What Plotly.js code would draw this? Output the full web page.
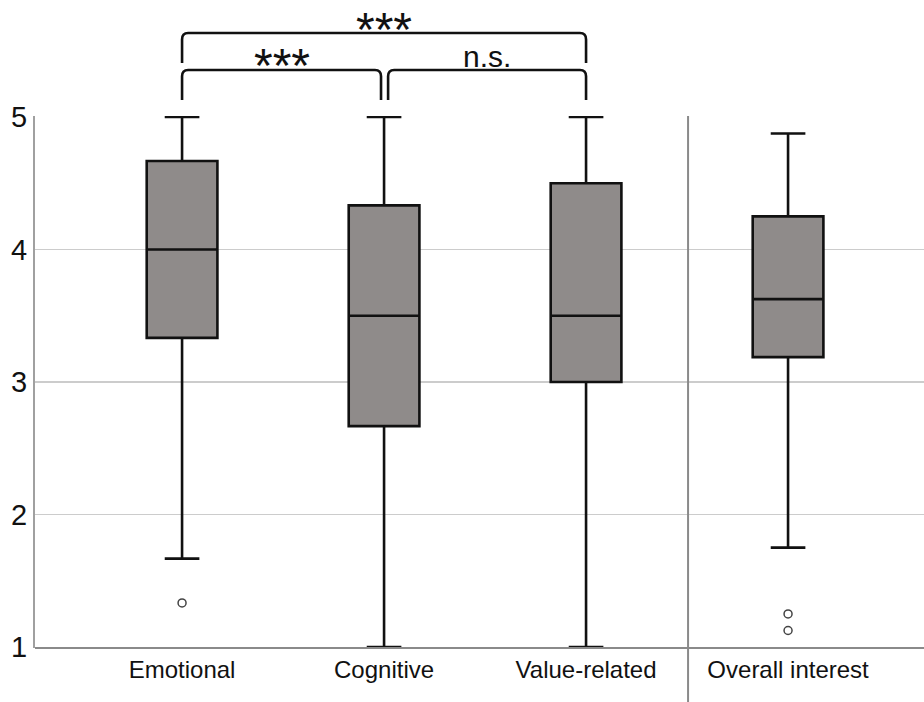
<!DOCTYPE html>
<html>
<head>
<meta charset="utf-8">
<script src="https://cdn.plot.ly/plotly-3.0.1.min.js"></script>
<style>html,body{margin:0;padding:0;background:#fff;}#chart{width:924px;height:702px;}</style>
</head>
<body>
<div id="chart"></div>
<script>
// ---- data ----
const categories = ["Emotional", "Cognitive", "Value-related", "Overall interest"];
const upperFence = [5.0, 5.0, 5.0, 4.875];
const q3Values   = [4.667, 4.333, 4.5, 4.25];
const medians    = [4.0, 3.5, 3.5, 3.625];
const q1Values   = [3.333, 2.667, 3.0, 3.1875];
const lowerFence = [1.667, 1.0, 1.0, 1.75];
const outlierCategory = ["Emotional", "Overall interest", "Overall interest"];
const outlierValues   = [1.333, 1.25, 1.125];
const yTicks = [1, 2, 3, 4, 5];
const comparisons = [
  {from: "Emotional", to: "Value-related", label: "***", level: 2},
  {from: "Emotional", to: "Cognitive", label: "***", level: 1},
  {from: "Cognitive", to: "Value-related", label: "n.s.", level: 1}
];

// ---- layout helpers ----
const xPos = categories.map((c, i) => i);
const posOf = c => xPos[categories.indexOf(c)];
const FONT = "Liberation Sans, Arial, sans-serif";

const traces = categories.map((c, i) => ({
  type: "box",
  x: [xPos[i]],
  q1: [q1Values[i]], median: [medians[i]], q3: [q3Values[i]],
  lowerfence: [lowerFence[i]], upperfence: [upperFence[i]],
  boxpoints: false,
  width: 0.35,
  whiskerwidth: 0.49,
  fillcolor: "#8f8b8a",
  line: {color: "#111111", width: 2.6},
  hoverinfo: "skip",
  showlegend: false
}));

traces.push({
  type: "scatter", mode: "markers",
  x: outlierCategory.map(posOf), y: outlierValues,
  marker: {symbol: "circle-open", size: 8, color: "#444444", line: {width: 1.5}},
  showlegend: false, hoverinfo: "skip"
});

// brackets
const shapes = [];
const annotations = [];
const rx = 0.03, ry = 0.012;
function bracket(xa, xb, yTop, yBot) {
  return `M ${xa} ${yBot} L ${xa} ${yTop - ry} Q ${xa} ${yTop} ${xa + rx} ${yTop} ` +
         `L ${xb - rx} ${yTop} Q ${xb} ${yTop} ${xb} ${yTop - ry} L ${xb} ${yBot}`;
}
comparisons.forEach(cmp => {
  let xa = posOf(cmp.from), xb = posOf(cmp.to);
  let yTop, yBot, yText, xText;
  const isStar = cmp.label === "***";
  if (cmp.level === 2) {
    yTop = 1.156; yBot = 1.0996; yText = 1.162;
  } else {
    yTop = 1.0865; yBot = 1.030; yText = isStar ? 1.094 : 1.112;
    if (cmp.from === "Cognitive") xa += 0.02; else xb -= 0.015;
  }
  xText = (xa + xb) / 2;
  shapes.push({type: "path", xref: "x", yref: "paper", path: bracket(xa, xb, yTop, yBot),
               line: {color: "#111111", width: 2.6}});
  annotations.push({xref: "x", yref: "paper", x: xText, y: yText, text: cmp.label,
    showarrow: false, xanchor: "center", yanchor: "middle",
    font: {family: FONT, size: isStar ? 48 : 30, color: "#111111"}});
});

// separator line
shapes.push({type: "line", xref: "x", yref: "paper", x0: 2.505, x1: 2.505, y0: -0.102, y1: 1,
             line: {color: "#8a8a8a", width: 2}});

const layout = {
  width: 924, height: 702,
  margin: {l: 35, r: 0, t: 116, b: 54},
  paper_bgcolor: "#ffffff", plot_bgcolor: "#ffffff",
  font: {family: FONT, color: "#111111"},
  xaxis: {
    range: [-0.728, 3.673],
    tickvals: xPos, ticktext: categories,
    tickfont: {family: FONT, size: 24, color: "#111111"},
    showgrid: false, zeroline: false,
    showline: false, ticks: "", ticklabelstandoff: 5,
    fixedrange: true
  },
  yaxis: {
    range: [0.993, 5.007],
    tickvals: yTicks, ticktext: yTicks.map(String),
    tickfont: {family: FONT, size: 29, color: "#111111"},
    showgrid: true, gridcolor: "#cccccc", gridwidth: 1.5,
    zeroline: false, showline: true, linecolor: "#a0a0a0", linewidth: 2,
    ticks: "", ticklabelstandoff: 0,
    fixedrange: true
  },
  shapes: shapes.concat([
    {type: "line", xref: "paper", yref: "paper", x0: 0, x1: 1, y0: 0, y1: 0,
     line: {color: "#8a8a8a", width: 2}}
  ]),
  annotations: annotations,
  showlegend: false
};

Plotly.newPlot("chart", traces, layout, {staticPlot: true, displayModeBar: false});
</script>
</body>
</html>
